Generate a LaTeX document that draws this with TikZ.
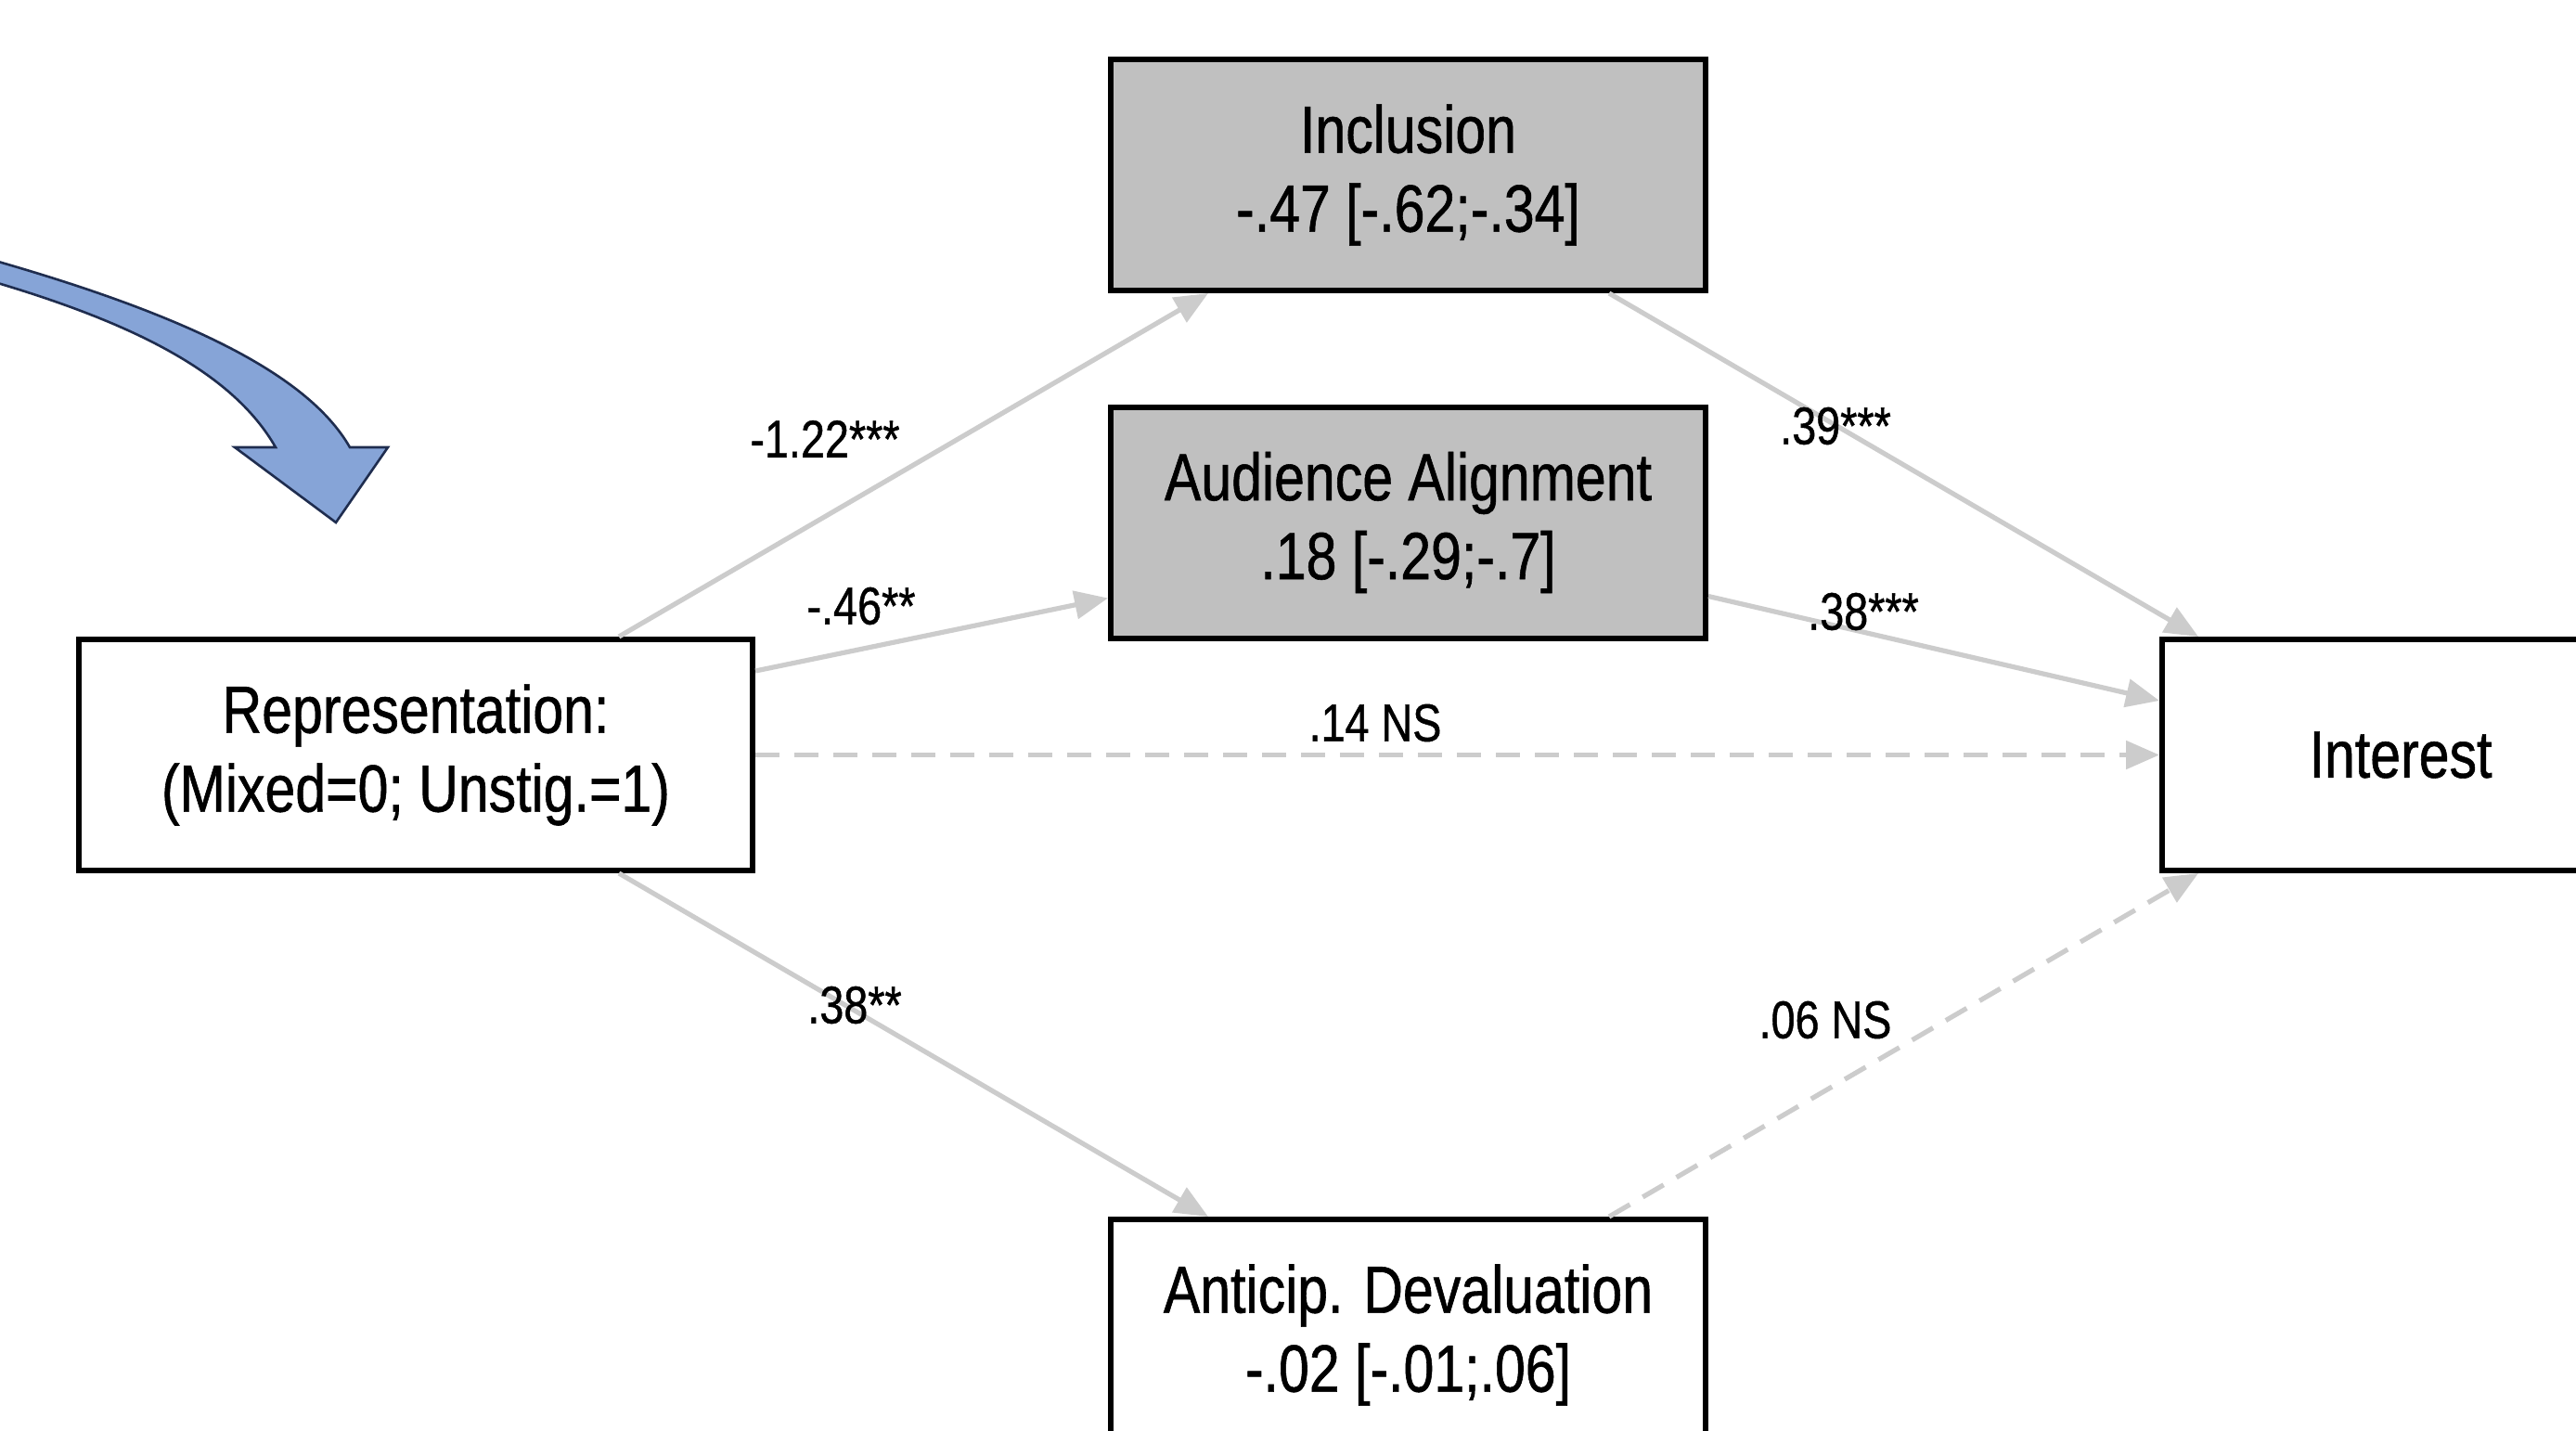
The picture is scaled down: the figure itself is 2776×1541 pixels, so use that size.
\documentclass[tikz,border=0pt]{standalone}
\usepackage{fontspec}
\setmainfont[FakeStretch=0.82,FakeBold=0.8]{Liberation Sans}
\usetikzlibrary{arrows.meta}
\definecolor{boxgray}{RGB}{192,192,192}
\definecolor{edgegray}{RGB}{204,204,204}
\definecolor{arrowblue}{RGB}{134,164,215}
\definecolor{arrownavy}{RGB}{31,45,79}
\tikzset{
  varbox/.style={draw=black, line width=3pt, rectangle, inner sep=0pt, align=center,
    minimum height=124.5pt, font=\fontsize{36pt}{42.5pt}\selectfont},
  medbox/.style={varbox, fill=boxgray, minimum width=320.5pt},
  path/.style={draw=edgegray, line width=2.6pt, -{Triangle[length=18pt,width=15pt]}},
  nspath/.style={path, dash pattern=on 13pt off 8pt},
  coef/.style={font=\fontsize{28.5pt}{32pt}\selectfont, inner sep=0pt}
}
\begin{document}
\begin{tikzpicture}[x=0.5pt,y=-0.5pt]
\useasboundingbox (0,0) rectangle (2776,1541);
\clip (0,0) rectangle (2776,1541);
\fill[white] (0,0) rectangle (2776,1541);
% blue curved arrow
\draw[fill=arrowblue, draw=arrownavy, line width=1.3pt, line join=miter]
  (-30,274) .. controls (190,335) and (330,400) .. (377,482)
  -- (418,482) -- (362,563) -- (253,482) -- (297,482)
  .. controls (250,400) and (140,345) .. (-30,297) -- cycle;
% nodes
\node[medbox] (inc) at (1517.5,188.5) {Inclusion\\-.47 [-.62;-.34]};
\node[medbox] (aud) at (1517.5,563) {Audience Alignment\\.18 [-.29;-.7]};
\node[varbox, fill=white, minimum width=320.5pt] (dev) at (1517.5,1438.5) {Anticip. Devaluation\\-.02 [-.01;.06]};
\node[varbox, fill=white, minimum width=363pt] (rep) at (448,813.5) {Representation:\\(Mixed=0; Unstig.=1)};
\node[varbox, fill=white, minimum width=257pt] (int) at (2587,813.5) {Interest};
% edges
\draw[path] ([xshift=-73.5pt]rep.north east) -- ([xshift=54pt]inc.south west);
\draw[path] ([yshift=-18.5pt]rep.north east) -- ([yshift=23pt]aud.south west);
\draw[nspath] (rep.east) -- (int.west);
\draw[path] ([xshift=-73.5pt]rep.south east) -- ([xshift=54pt]dev.north west);
\draw[path] ([xshift=-53.5pt]inc.south east) -- ([xshift=21pt]int.north west);
\draw[path] ([yshift=24pt]aud.south east) -- ([yshift=-34.5pt]int.north west);
\draw[nspath] ([xshift=-53.5pt]dev.north east) -- ([xshift=21pt]int.south west);
% coefficients
\node[coef] (c1) at (889,473) {-1.22***};
\node[coef] (c2) at (928,653) {-.46**};
\node[coef] (c3) at (1482,779) {.14 NS};
\node[coef] (c4) at (921,1083) {.38**};
\node[coef] (c5) at (1978,459) {.39***};
\node[coef] (c6) at (2008,659) {.38***};
\node[coef] (c7) at (1967,1099) {.06 NS};
\end{tikzpicture}
\end{document}
